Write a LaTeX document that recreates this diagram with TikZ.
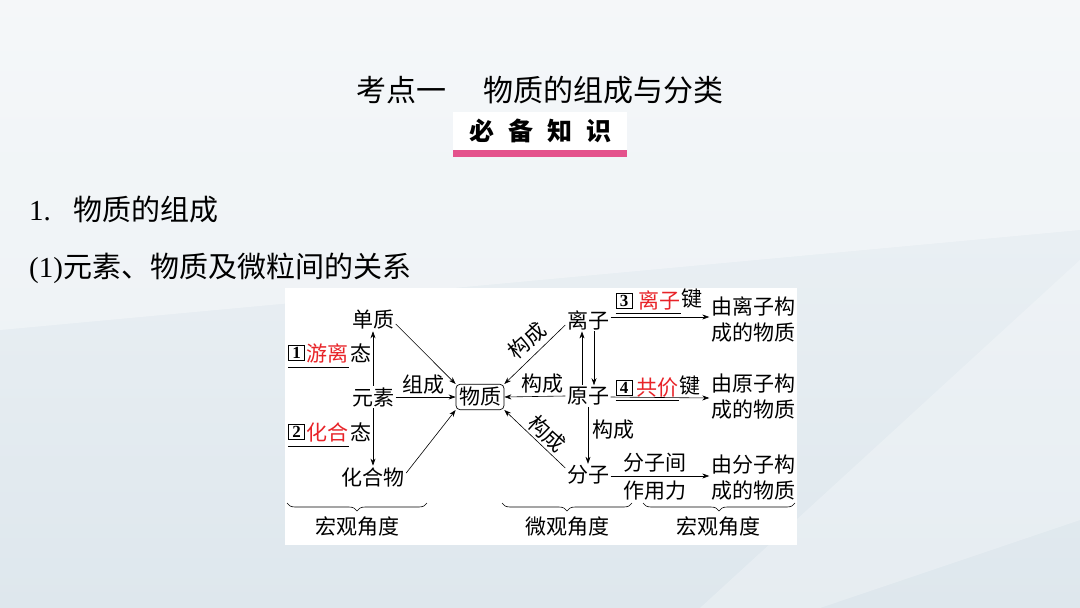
\documentclass[tikz,border=0pt]{standalone}
\usepackage{fontspec}
\setmainfont{Liberation Serif}
\newfontfamily\cjk{Noto Sans CJK SC}
\usetikzlibrary{arrows.meta,decorations.pathreplacing}
\definecolor{bgtop}{RGB}{240,244,247}
\definecolor{bgbot}{RGB}{222,231,237}
\definecolor{redtxt}{RGB}{232,35,40}
\definecolor{pinkbar}{RGB}{228,82,140}
\tikzset{
  lbl/.style={font=\cjk\fontsize{21}{21}\selectfont, inner sep=1.5pt},
  two/.style={font=\cjk\fontsize{21}{26}\selectfont, inner sep=1.5pt, align=center},
  arr/.style={-{Stealth[length=7pt,width=5pt]}, line width=0.6pt, black},
  uline/.style={line width=0.8pt, black},
  numbox/.style={draw, line width=0.9pt, minimum width=16pt, minimum height=15pt, inner sep=0pt, font=\bfseries\fontsize{17}{17}\selectfont},
  brc/.style={decorate, decoration={brace, mirror, amplitude=8pt}, line width=0.6pt},
  heading/.style={font=\fontsize{29}{29}\selectfont, inner sep=0pt}
}
\begin{document}
\begin{tikzpicture}[x=1pt,y=-1pt]
\useasboundingbox (0,0) rectangle (1080,608);
% background
\shade[top color=bgtop, bottom color=bgbot] (0,0) rectangle (1080,608);
\fill[white, opacity=0.35] (0,0) -- (1080,0) -- (1080,230) -- (0,330) -- cycle;
\fill[white, opacity=0.25] (1080,260) -- (1080,520) -- (820,608) -- (700,608) -- cycle;

% title
\node[font=\cjk\fontsize{30}{30}\selectfont, inner sep=0pt] (title) at (540,90) {考点一\hspace{38pt}物质的组成与分类};
\fill[white] (453,112) rectangle (627,150);
\fill[pinkbar] (453,150) rectangle (627,157);
\node[font=\cjk\bfseries\fontsize{25}{25}\selectfont, inner sep=0pt] (bbzs) at (540,131) {必\hspace{14pt}备\hspace{14pt}知\hspace{14pt}识};

% headings
\node[heading, anchor=west] (h1) at (29,210) {1.\hspace{23pt}{\cjk 物质的组成}};
\node[heading, anchor=west] (h2) at (29,268) {(1){\cjk 元素、物质及微粒间的关系}};

% diagram panel
\fill[white] (285,288) rectangle (797,545);

% left part
\node[lbl] (dz) at (373,320) {单质};
\node[lbl] (ys) at (373,397) {元素};
\node[lbl] (hhw) at (373,477) {化合物};
\node[lbl, draw, rounded corners=4pt, line width=0.7pt, inner sep=3pt] (wz) at (480,397) {物质};

\draw[arr] (ys.north) -- (dz.south);
\draw[arr] (ys.south) -- (hhw.north);
\draw[arr] (ys.east) -- (wz.west);
\node[lbl] (zc) at (423,385) {组成};
\draw[arr] ([yshift=-4pt]dz.east) -- (wz.north west);
\draw[arr] ([yshift=4pt]hhw.east) -- (wz.south west);

% numbered labels left
\node[numbox] (n1) at (296.5,353) {1};
\node[lbl, text=redtxt, anchor=west, inner sep=0.5pt] (t1) at ([xshift=1pt]n1.east) {游离};
\node[lbl, anchor=west, inner sep=0.5pt] (s1) at (t1.east) {态};
\coordinate (u1) at ([yshift=-6pt]n1.south west);
\draw[uline] (u1) -- (u1 -| t1.east);

\node[numbox] (n2) at (296.5,432) {2};
\node[lbl, text=redtxt, anchor=west, inner sep=0.5pt] (t2) at ([xshift=1pt]n2.east) {化合};
\node[lbl, anchor=west, inner sep=0.5pt] (s2) at (t2.east) {态};
\coordinate (u2) at ([yshift=-6pt]n2.south west);
\draw[uline] (u2) -- (u2 -| t2.east);

% right part
\node[lbl] (lz) at (588,320) {离子};
\node[lbl] (yz) at (588,396) {原子};
\node[lbl] (fz) at (588,475) {分子};

\draw[arr] ([yshift=-5pt]lz.west) -- (wz.north east);
\node[lbl, rotate=42] (gc1) at (527,341) {构成};
\draw[arr] (yz.west) -- (wz.east);
\node[lbl] (gc2) at (542,384) {构成};
\draw[arr] ([yshift=7pt]fz.west) -- (wz.south east);
\node[lbl, rotate=-42] (gc3) at (547,434) {构成};

\draw[arr] ([xshift=-6pt]yz.north) -- ([xshift=-6pt]lz.south);
\draw[arr] ([xshift=6pt]lz.south) -- ([xshift=6pt]yz.north);
\draw[arr] (yz.south) -- (fz.north);
\node[lbl] (gc4) at (613,430) {构成};

% right outputs
\node[two] (r1) at (753,320) {由离子构\\成的物质};
\node[two] (r2) at (753,397) {由原子构\\成的物质};
\node[two] (r3) at (753,478) {由分子构\\成的物质};

\draw[arr] ([yshift=3pt]lz.east) -- ([yshift=3pt]r1.west);
\draw[arr] ([yshift=-1pt]yz.east) -- ([yshift=-1pt]r2.west);
\draw[arr] ([yshift=-1pt]fz.east) -- ([yshift=2pt]r3.west);

\node[numbox] (n3) at (624,300.5) {3};
\node[lbl, text=redtxt, anchor=west, inner sep=0.5pt] (t3) at ([xshift=5pt]n3.east) {离子};
\node[lbl, anchor=west, inner sep=0.5pt] (s3) at ([yshift=2pt]t3.east) {键};
\coordinate (u3) at ([yshift=-5pt]n3.south west);
\draw[uline] (u3) -- (u3 -| t3.east);

\node[numbox] (n4) at (624,387.5) {4};
\node[lbl, text=redtxt, anchor=west, inner sep=0.5pt] (t4) at ([xshift=3pt]n4.east) {共价};
\node[lbl, anchor=west, inner sep=0.5pt] (s4) at ([yshift=2pt]t4.east) {键};
\coordinate (u4) at ([yshift=-5pt]n4.south west);
\draw[uline] (u4) -- (u4 -| t4.east);

\node[lbl] (fzj) at (655,463) {分子间};
\node[lbl] (zyl) at (655,491) {作用力};

% braces
\coordinate (b1a) at (287,503); \coordinate (b1b) at (427,503);
\coordinate (b2a) at (502,503); \coordinate (b2b) at (632,503);
\coordinate (b3a) at (643,503); \coordinate (b3b) at (795,503);
\draw[brc] (b1a) -- (b1b);
\draw[brc] (b2a) -- (b2b);
\draw[brc] (b3a) -- (b3b);
\node[lbl] (hg1) at (357,527) {宏观角度};
\node[lbl] (wg) at (567,527) {微观角度};
\node[lbl] (hg2) at (718,527) {宏观角度};
\end{tikzpicture}
\end{document}
